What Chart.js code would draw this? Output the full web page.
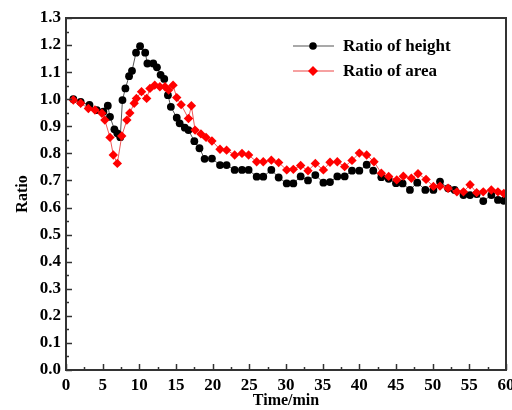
<!DOCTYPE html>
<html>
<head>
<meta charset="utf-8">
<script src="https://cdn.jsdelivr.net/npm/chart.js@4.4.1/dist/chart.umd.min.js"></script>
<style>
  html, body { margin: 0; padding: 0; background: #fff; }
  #wrap { width: 512px; height: 410px; }
</style>
</head>
<body>
<div id="wrap"><canvas id="myChart" width="512" height="410"></canvas></div>
<script>
// time (min) and ratio readings for both series
const heightTime = [1, 2, 3.2, 4.2, 5.1, 5.7, 6.0, 6.6, 7.0, 7.4, 7.7, 8.1, 8.6, 9.0, 9.55, 10.1, 10.8, 11.1, 11.9, 12.4, 12.9, 13.4, 13.9, 14.3, 15.1, 15.5, 16.2, 16.7, 17.5, 18.2, 18.9, 19.9, 21.0, 21.9, 23.0, 24.0, 24.9, 26.0, 26.9, 28.0, 29.0, 30.1, 31.0, 32.0, 33.0, 34.0, 35.1, 36.0, 37.0, 38.0, 39.0, 40.0, 41.0, 41.9, 43.0, 44.0, 45.0, 45.9, 46.9, 47.9, 49.0, 50.1, 51.0, 52.1, 53.0, 54.2, 55.1, 56.0, 56.9, 58.0, 58.9, 59.7];
const heightRatio = [1.0, 0.99, 0.979, 0.96, 0.954, 0.976, 0.935, 0.889, 0.874, 0.86, 0.997, 1.04, 1.085, 1.105, 1.172, 1.196, 1.172, 1.132, 1.132, 1.118, 1.09, 1.075, 1.015, 0.972, 0.932, 0.911, 0.895, 0.886, 0.845, 0.819, 0.78, 0.781, 0.757, 0.757, 0.739, 0.739, 0.739, 0.714, 0.714, 0.739, 0.711, 0.689, 0.689, 0.715, 0.70, 0.72, 0.692, 0.694, 0.715, 0.715, 0.736, 0.736, 0.758, 0.736, 0.712, 0.706, 0.69, 0.689, 0.665, 0.692, 0.665, 0.665, 0.696, 0.671, 0.665, 0.646, 0.646, 0.65, 0.624, 0.646, 0.628, 0.625];

const areaTime = [1, 2, 3.05, 3.95, 4.9, 5.3, 6.0, 6.45, 7.0, 7.6, 8.3, 8.7, 9.3, 9.6, 10.3, 11.0, 11.45, 12.1, 12.8, 13.5, 14.0, 14.6, 15.1, 15.7, 16.7, 17.1, 17.6, 18.4, 19.1, 19.9, 21.0, 21.9, 23.0, 24.0, 24.9, 26.0, 26.9, 28.0, 29.0, 30.1, 31.0, 32.0, 33.0, 34.0, 35.1, 36.0, 37.0, 38.0, 39.0, 40.0, 41.0, 42.0, 43.0, 44.0, 45.1, 46.0, 47.1, 48.0, 49.1, 50.1, 51.0, 52.1, 53.3, 54.2, 55.1, 56.0, 56.9, 58.0, 58.9, 59.7];
const areaRatio = [0.997, 0.985, 0.966, 0.96, 0.948, 0.923, 0.859, 0.794, 0.763, 0.864, 0.923, 0.949, 0.985, 1.003, 1.028, 1.003, 1.04, 1.052, 1.046, 1.046, 1.034, 1.052, 1.006, 0.98, 0.929, 0.976, 0.886, 0.872, 0.859, 0.846, 0.815, 0.812, 0.794, 0.80, 0.794, 0.769, 0.769, 0.775, 0.766, 0.739, 0.741, 0.755, 0.736, 0.763, 0.739, 0.767, 0.769, 0.751, 0.774, 0.801, 0.794, 0.769, 0.727, 0.715, 0.702, 0.716, 0.708, 0.725, 0.704, 0.678, 0.679, 0.671, 0.658, 0.658, 0.684, 0.655, 0.658, 0.665, 0.658, 0.652];

const seriesNames = ['Ratio of height', 'Ratio of area'];
const xTicks = [0, 60, 5];     // min, max, step
const yTicks = [0, 1.3, 0.1];

const FONT = '"Liberation Serif", "Times New Roman", serif';

function pairs(xs, ys) {
    return xs.map((x, i) => ({ x: x, y: ys[i] }));
}

// box around the plot with inward major/minor ticks
const framePlugin = {
    id: 'frame',
    afterDraw(chart) {
        const { ctx, chartArea: a, scales } = chart;
        const xs = scales.x, ys = scales.y;
        ctx.save();
        ctx.strokeStyle = '#333';
        ctx.lineWidth = 1.5;
        for (let v = xTicks[0]; v <= xTicks[1] + 1e-9; v += xTicks[2] / 2) {
            const px = Math.round(xs.getPixelForValue(v)) + 0.5;
            const major = Math.abs(v / xTicks[2] - Math.round(v / xTicks[2])) < 1e-6;
            ctx.beginPath();
            ctx.moveTo(px, a.bottom);
            ctx.lineTo(px, a.bottom - (major ? 6 : 3));
            ctx.stroke();
        }
        for (let v = yTicks[0]; v <= yTicks[1] + 1e-9; v += yTicks[2] / 2) {
            const py = Math.round(ys.getPixelForValue(v)) + 0.5;
            const major = Math.abs(v / yTicks[2] - Math.round(v / yTicks[2])) < 1e-6;
            ctx.beginPath();
            ctx.moveTo(a.left, py);
            ctx.lineTo(a.left + (major ? 6 : 3), py);
            ctx.stroke();
        }
        ctx.lineWidth = 2;
        ctx.strokeRect(a.left, a.top, a.right - a.left, a.bottom - a.top);
        ctx.restore();
    }
};

// legend: short line with marker, then bold label
const legendPlugin = {
    id: 'lineLegend',
    afterDraw(chart) {
        const ctx = chart.ctx;
        ctx.save();
        ctx.font = 'bold 17px ' + FONT;
        ctx.textBaseline = 'middle';
        chart.data.datasets.forEach((ds, i) => {
            const y = 46 + i * 25;
            ctx.strokeStyle = ds.borderColor;
            ctx.lineWidth = 1.2;
            ctx.beginPath();
            ctx.moveTo(293, y);
            ctx.lineTo(334, y);
            ctx.stroke();
            ctx.fillStyle = ds.pointBackgroundColor;
            ctx.beginPath();
            if (ds.pointStyle === 'rectRot') {
                ctx.moveTo(313, y - 5);
                ctx.lineTo(318, y);
                ctx.lineTo(313, y + 5);
                ctx.lineTo(308, y);
            } else {
                ctx.arc(313, y, 3.8, 0, Math.PI * 2);
            }
            ctx.closePath();
            ctx.fill();
            ctx.fillStyle = '#000';
            ctx.fillText(ds.label, 343, y + 1);
        });
        ctx.restore();
    }
};

const ctx = document.getElementById('myChart').getContext('2d');
const myChart = new Chart(ctx, {
    type: 'scatter',
    data: {
        datasets: [{
            label: seriesNames[0],
            data: pairs(heightTime, heightRatio),
            showLine: true,
            borderColor: '#555',
            borderWidth: 1,
            pointStyle: 'circle',
            pointRadius: 3.9,
            pointBackgroundColor: '#000',
            pointBorderColor: '#000',
            pointBorderWidth: 0,
            order: 2
        }, {
            label: seriesNames[1],
            data: pairs(areaTime, areaRatio),
            showLine: true,
            borderColor: '#e44',
            borderWidth: 0.9,
            pointStyle: 'rectRot',
            pointRadius: 4.7,
            pointBackgroundColor: '#f00',
            pointBorderColor: '#f00',
            pointBorderWidth: 0,
            order: 1
        }]
    },
    options: {
        responsive: false,
        animation: false,
        events: [],
        layout: { padding: { top: 18, right: 6, left: 0, bottom: 0 } },
        plugins: {
            legend: { display: false },
            tooltip: { enabled: false }
        },
        scales: {
            x: {
                type: 'linear',
                min: xTicks[0],
                max: xTicks[1],
                grid: { display: false, drawTicks: false },
                border: { display: false },
                ticks: {
                    stepSize: xTicks[2],
                    color: '#000',
                    padding: 5,
                    maxRotation: 0,
                    font: { family: FONT, size: 17, weight: 'bold' }
                },
                title: {
                    display: true,
                    text: 'Time/min',
                    color: '#000',
                    padding: { top: -5, bottom: 0 },
                    font: { family: FONT, size: 16, weight: 'bold' }
                },
                afterFit(s) { s.height = 40; s.paddingLeft = 0; s.paddingRight = 0; }
            },
            y: {
                min: yTicks[0],
                max: yTicks[1],
                grid: { display: false, drawTicks: false },
                border: { display: false },
                ticks: {
                    stepSize: yTicks[2],
                    color: '#000',
                    padding: 5,
                    font: { family: FONT, size: 17, weight: 'bold' },
                    callback: v => v.toFixed(1)
                },
                title: {
                    display: true,
                    text: 'Ratio',
                    color: '#000',
                    padding: { top: 13, bottom: 0 },
                    font: { family: FONT, size: 16, weight: 'bold' }
                },
                afterFit(s) { s.width = 66; s.paddingTop = 0; s.paddingBottom = 0; }
            }
        }
    },
    plugins: [framePlugin, legendPlugin]
});
</script>
</body>
</html>
